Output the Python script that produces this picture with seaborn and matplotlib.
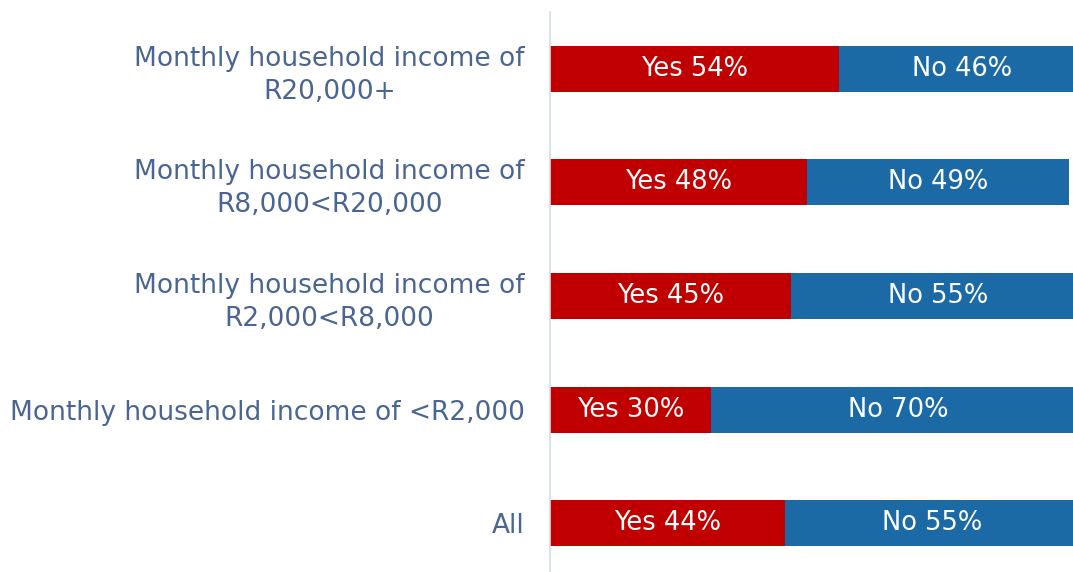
import matplotlib
matplotlib.use("Agg")
import matplotlib.pyplot as plt
import seaborn as sns
import pandas as pd

categories = [
    "Monthly household income of\nR20,000+",
    "Monthly household income of\nR8,000<R20,000",
    "Monthly household income of\nR2,000<R8,000",
    "Monthly household income of <R2,000",
    "All",
]
yes_values = [54, 48, 45, 30, 44]
no_values = [46, 49, 55, 70, 55]

df = pd.DataFrame({"group": categories, "yes": yes_values, "no": no_values})
df["total"] = df["yes"] + df["no"]

sns.set_theme(style="white")
plt.rcParams["font.family"] = ["DejaVu Sans"]

RED = "#c00000"
BLUE = "#1b6aa5"
LABEL = "#4a6592"

fig = plt.figure(figsize=(10.73, 5.72), dpi=100)
ax = fig.add_axes([550 / 1073, 0, 1 - 550 / 1073, 1 - 12 / 572])

# stacked look: full (yes+no) bar in blue, yes portion drawn over it in red
sns.barplot(data=df, y="group", x="total", color=BLUE, width=0.405,
            orient="h", ax=ax, saturation=1, linewidth=0)
sns.barplot(data=df, y="group", x="yes", color=RED, width=0.405,
            orient="h", ax=ax, saturation=1, linewidth=0)

for i, (y, n) in enumerate(zip(yes_values, no_values)):
    ax.text(y / 2, i, f"Yes {y}%", ha="center", va="center",
            color="white", fontsize=18.5)
    ax.text(y + n / 2, i, f"No {n}%", ha="center", va="center",
            color="white", fontsize=18.5)

ax.set_xlim(0, 523 / 5.35)
ax.set_ylim(4.43, -0.50)
ax.set_xlabel("")
ax.set_ylabel("")
ax.set_xticks([])
ax.tick_params(axis="y", length=0, pad=18, labelsize=19, labelcolor=LABEL)
for lab in ax.get_yticklabels():
    lab.set_horizontalalignment("right")
    lab.set_multialignment("center")
    lab.set_linespacing(1.35)

for side in ["top", "right", "bottom"]:
    ax.spines[side].set_visible(False)
ax.spines["left"].set_color("#d5dde8")
ax.spines["left"].set_linewidth(1.2)

fig.savefig("out.png", dpi=100)
